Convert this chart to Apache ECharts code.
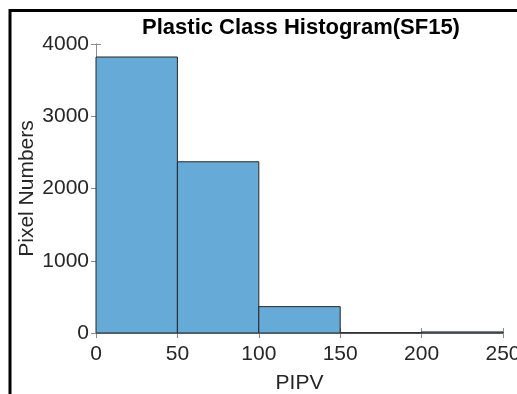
<!DOCTYPE html>
<html>
<head>
<meta charset="utf-8">
<script src="https://cdn.jsdelivr.net/npm/echarts@6/dist/echarts.min.js"></script>
<style>
  html, body { margin: 0; padding: 0; background: #fff; }
  #chart { width: 517px; height: 394px; }
</style>
</head>
<body>
<div id="chart"></div>
<script>
// Histogram bin edges (PIPV) and pixel counts per bin
const binStarts = [0, 50, 100, 150, 200];
const binEnds = [50, 100, 150, 200, 250];
const pixelCounts = [3820, 2370, 365, 5, 15];
const xTicks = [0, 50, 100, 150, 200, 250];
const yTicks = [0, 1000, 2000, 3000, 4000];

const FONT = '"Liberation Sans", Arial, Helvetica, sans-serif';
const bins = binStarts.map((s, i) => [s, binEnds[i], pixelCounts[i]]);

const chart = echarts.init(document.getElementById('chart'), null, { renderer: 'canvas' });

const grid = { left: 96, right: 14, top: 44, bottom: 61, containLabel: false, outerBoundsMode: 'none' };
const boxColor = '#8c8c8c';
const tickLabel = { color: '#262626', fontFamily: FONT, fontSize: 21, formatter: v => String(v) };

chart.setOption({
  animation: false,
  backgroundColor: '#ffffff',
  title: {
    text: 'Plastic Class Histogram(SF15)',
    left: 296,
    textAlign: 'center',
    top: 12,
    textStyle: { fontFamily: FONT, fontSize: 22, fontWeight: 'bold', color: '#000' }
  },
  grid: grid,
  xAxis: [
    {
      type: 'value', min: xTicks[0], max: xTicks[xTicks.length - 1], interval: 50,
      name: 'PIPV', nameLocation: 'middle', nameGap: 40, nameMoveOverlap: false,
      nameTextStyle: { fontFamily: FONT, fontSize: 21, color: '#262626' },
      axisLine: { show: true, lineStyle: { color: boxColor, width: 1 } },
      axisTick: { show: true, inside: true, length: 5, lineStyle: { color: boxColor } },
      axisLabel: Object.assign({ margin: 11, showMaxLabel: true }, tickLabel),
      splitLine: { show: false }
    },
    {
      type: 'value', position: 'top', min: 0, max: 250, interval: 50,
      axisLine: { show: true, lineStyle: { color: boxColor, width: 1 } },
      axisTick: { show: true, inside: true, length: 5, lineStyle: { color: boxColor } },
      axisLabel: { show: false },
      splitLine: { show: false }
    }
  ],
  yAxis: [
    {
      type: 'value', min: yTicks[0], max: yTicks[yTicks.length - 1], interval: 1000,
      name: 'Pixel Numbers', nameLocation: 'middle', nameGap: 58, nameMoveOverlap: false,
      nameTextStyle: { fontFamily: FONT, fontSize: 21, color: '#262626' },
      axisLine: { show: true, lineStyle: { color: boxColor, width: 1 } },
      axisTick: { show: true, inside: true, length: 5, lineStyle: { color: boxColor } },
      axisLabel: Object.assign({ margin: 7 }, tickLabel),
      splitLine: { show: false }
    },
    {
      type: 'value', position: 'right', min: 0, max: 4000, interval: 1000,
      axisLine: { show: true, lineStyle: { color: boxColor, width: 1 } },
      axisTick: { show: true, inside: true, length: 5, lineStyle: { color: boxColor } },
      axisLabel: { show: false },
      splitLine: { show: false }
    }
  ],
  series: [{
    type: 'custom',
    xAxisIndex: 0,
    yAxisIndex: 0,
    data: bins,
    encode: { x: [0, 1], y: 2 },
    renderItem: function (params, api) {
      const p0 = api.coord([api.value(0), 0]);
      const p1 = api.coord([api.value(1), api.value(2)]);
      return {
        type: 'rect',
        shape: { x: p0[0], y: p1[1], width: p1[0] - p0[0], height: p0[1] - p1[1] },
        style: { fill: '#66aad7', stroke: '#262626', lineWidth: 1 }
      };
    }
  }],
  graphic: [
    { type: 'line', shape: { x1: 10, y1: 10.5, x2: 517, y2: 10.5 }, style: { stroke: '#000', lineWidth: 3 } },
    { type: 'line', shape: { x1: 10, y1: 9, x2: 10, y2: 394 }, style: { stroke: '#000', lineWidth: 3 } }
  ]
});
</script>
</body>
</html>
